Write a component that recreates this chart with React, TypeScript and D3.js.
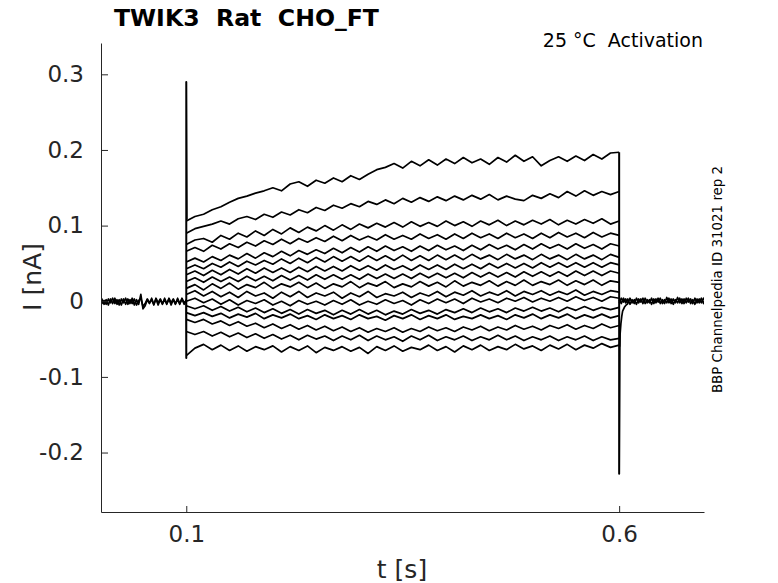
import React, { useEffect, useRef } from "react";
import * as d3 from "d3";

// axis ticks
const yTicks = [-0.2, -0.1, 0, 0.1, 0.2, 0.3];
const xTicks = [0.1, 0.6];

// holding current before the step (0 .. 0.1 s), nA — two overlapping sweeps
const basePre = [-0.001, 0.003, -0.004, 0.002, -0.005, 0.003, -0.003, 0.004, -0.004, 0.002, -0.005, 0.003, -0.004, 0.003, -0.003, 0.004, -0.005, 0.002, -0.004, 0.009, -0.010, -0.006, 0.002, -0.003, 0.004, -0.004, 0.003, -0.005, 0.002, -0.004, 0.004, -0.003, 0.003, -0.005, 0.002, -0.004, 0.004, -0.003, 0.003, -0.004, 0.002];
const basePre2 = [0.002, -0.003, 0.001, -0.004, 0.003, -0.002, 0.004, -0.003, 0.002, -0.005, 0.003, -0.002, 0.004, -0.004, 0.002, -0.003, 0.003, -0.005, 0.001, 0.004, -0.007, -0.003, 0.003, -0.002, 0.002, -0.005, 0.004, -0.002, 0.003, -0.003, 0.002, -0.004, 0.004, -0.002, 0.003, -0.003, 0.002, -0.004, 0.004, -0.002, 0.001];
// holding current after the step (0.6 .. 0.7 s), nA
const basePost = [0.002, -0.003, 0.004, -0.002, 0.003, -0.004, 0.002, -0.003, 0.004, -0.002, 0.003, -0.003, 0.004, -0.002, 0.002, -0.004, 0.003, -0.002, 0.004, -0.003, 0.002, -0.003, 0.005, -0.002, 0.003, -0.004, 0.002, -0.002, 0.004, -0.003, 0.003, -0.002, 0.004, -0.003, 0.002, -0.004, 0.003, -0.002, 0.004, -0.003, 0.002];
const basePost2 = [-0.002, 0.004, -0.001, 0.003, -0.003, 0.004, -0.002, 0.002, -0.004, 0.003, -0.001, 0.004, -0.003, 0.002, -0.002, 0.004, -0.003, 0.003, -0.001, 0.004, -0.003, 0.002, -0.002, 0.004, -0.003, 0.003, -0.002, 0.005, -0.002, 0.003, -0.003, 0.004, -0.001, 0.003, -0.003, 0.004, -0.002, 0.003, -0.002, 0.004, -0.001];
const tailTimes = [0.6005, 0.601, 0.602, 0.603, 0.604, 0.606, 0.608, 0.61];
const tailPost = [-0.06, -0.045, -0.03, -0.02, -0.013, -0.008, -0.005, -0.003];

// capacitive transients
const onsetTimes = [0.0998, 0.1, 0.1, 0.1006];
const onsetValues = [0, -0.075, 0.29, 0.108];
const offsetTimes = [0.6, 0.6, 0.6008];
const offsetValues = [0.197, -0.228, -0.03];

// currents during the step (0.1 .. 0.6 s), nA
const trace01 = [0.106, 0.112, 0.115, 0.121, 0.125, 0.131, 0.136, 0.139, 0.143, 0.146, 0.150, 0.146, 0.155, 0.158, 0.152, 0.160, 0.156, 0.163, 0.158, 0.166, 0.161, 0.168, 0.174, 0.177, 0.182, 0.176, 0.185, 0.179, 0.187, 0.180, 0.188, 0.182, 0.190, 0.183, 0.188, 0.181, 0.190, 0.184, 0.193, 0.185, 0.191, 0.179, 0.186, 0.191, 0.185, 0.192, 0.186, 0.194, 0.188, 0.196, 0.197];
const trace02 = [0.090, 0.096, 0.099, 0.102, 0.106, 0.102, 0.109, 0.112, 0.108, 0.115, 0.111, 0.118, 0.114, 0.121, 0.117, 0.124, 0.120, 0.127, 0.123, 0.129, 0.125, 0.132, 0.128, 0.134, 0.129, 0.136, 0.131, 0.137, 0.132, 0.138, 0.133, 0.139, 0.134, 0.140, 0.135, 0.141, 0.134, 0.139, 0.135, 0.133, 0.140, 0.136, 0.142, 0.137, 0.145, 0.139, 0.146, 0.140, 0.145, 0.141, 0.145];
const trace03 = [0.075, 0.081, 0.083, 0.078, 0.087, 0.082, 0.090, 0.085, 0.093, 0.087, 0.095, 0.089, 0.097, 0.091, 0.098, 0.093, 0.100, 0.094, 0.101, 0.095, 0.102, 0.097, 0.103, 0.098, 0.104, 0.098, 0.105, 0.099, 0.104, 0.099, 0.106, 0.100, 0.105, 0.099, 0.106, 0.101, 0.107, 0.100, 0.106, 0.101, 0.107, 0.102, 0.108, 0.101, 0.107, 0.102, 0.108, 0.103, 0.109, 0.102, 0.106];
const trace04 = [0.066, 0.071, 0.066, 0.074, 0.069, 0.076, 0.071, 0.078, 0.073, 0.080, 0.075, 0.082, 0.076, 0.083, 0.078, 0.084, 0.079, 0.086, 0.080, 0.087, 0.081, 0.086, 0.081, 0.088, 0.082, 0.087, 0.082, 0.089, 0.083, 0.088, 0.082, 0.089, 0.083, 0.090, 0.084, 0.089, 0.083, 0.090, 0.084, 0.089, 0.083, 0.090, 0.084, 0.091, 0.085, 0.090, 0.084, 0.091, 0.085, 0.090, 0.087];
const trace05 = [0.052, 0.057, 0.052, 0.059, 0.054, 0.061, 0.056, 0.063, 0.057, 0.064, 0.059, 0.066, 0.060, 0.067, 0.062, 0.068, 0.063, 0.070, 0.064, 0.071, 0.065, 0.072, 0.066, 0.073, 0.067, 0.072, 0.066, 0.073, 0.067, 0.074, 0.068, 0.073, 0.067, 0.074, 0.068, 0.075, 0.069, 0.074, 0.068, 0.075, 0.069, 0.076, 0.070, 0.075, 0.069, 0.076, 0.070, 0.075, 0.069, 0.076, 0.073];
const trace06 = [0.043, 0.048, 0.043, 0.050, 0.045, 0.052, 0.046, 0.053, 0.048, 0.054, 0.049, 0.056, 0.050, 0.057, 0.051, 0.058, 0.052, 0.059, 0.053, 0.059, 0.053, 0.060, 0.054, 0.060, 0.054, 0.061, 0.054, 0.060, 0.054, 0.061, 0.055, 0.061, 0.055, 0.062, 0.056, 0.061, 0.055, 0.062, 0.056, 0.061, 0.055, 0.062, 0.056, 0.061, 0.055, 0.062, 0.056, 0.061, 0.055, 0.062, 0.058];
const trace07 = [0.035, 0.040, 0.034, 0.041, 0.035, 0.042, 0.036, 0.043, 0.037, 0.044, 0.038, 0.044, 0.038, 0.045, 0.039, 0.046, 0.040, 0.046, 0.040, 0.047, 0.041, 0.047, 0.041, 0.048, 0.042, 0.047, 0.041, 0.048, 0.042, 0.048, 0.042, 0.049, 0.043, 0.049, 0.043, 0.050, 0.044, 0.050, 0.044, 0.050, 0.044, 0.051, 0.045, 0.051, 0.045, 0.051, 0.045, 0.051, 0.045, 0.051, 0.048];
const trace08 = [0.026, 0.031, 0.025, 0.032, 0.026, 0.032, 0.026, 0.033, 0.027, 0.033, 0.027, 0.034, 0.028, 0.034, 0.028, 0.035, 0.029, 0.035, 0.029, 0.035, 0.029, 0.036, 0.030, 0.036, 0.030, 0.036, 0.030, 0.037, 0.031, 0.037, 0.031, 0.037, 0.031, 0.038, 0.032, 0.038, 0.032, 0.038, 0.032, 0.039, 0.033, 0.039, 0.033, 0.039, 0.033, 0.040, 0.034, 0.040, 0.034, 0.040, 0.037];
const trace09 = [0.017, 0.022, 0.015, 0.023, 0.017, 0.024, 0.016, 0.022, 0.018, 0.025, 0.017, 0.023, 0.019, 0.025, 0.018, 0.024, 0.017, 0.023, 0.019, 0.026, 0.018, 0.024, 0.020, 0.026, 0.018, 0.023, 0.019, 0.026, 0.020, 0.025, 0.019, 0.027, 0.020, 0.025, 0.021, 0.027, 0.020, 0.026, 0.021, 0.028, 0.021, 0.026, 0.022, 0.028, 0.021, 0.027, 0.022, 0.028, 0.021, 0.027, 0.025];
const trace10 = [0.009, 0.014, 0.007, 0.013, 0.006, 0.012, 0.005, 0.013, 0.007, 0.011, 0.004, 0.012, 0.006, 0.013, 0.005, 0.011, 0.007, 0.012, 0.004, 0.011, 0.006, 0.013, 0.005, 0.010, 0.007, 0.012, 0.005, 0.011, 0.007, 0.013, 0.006, 0.012, 0.008, 0.014, 0.007, 0.012, 0.008, 0.014, 0.007, 0.013, 0.009, 0.014, 0.008, 0.013, 0.009, 0.015, 0.008, 0.013, 0.009, 0.014, 0.012];
const trace11 = [0.000, 0.004, -0.002, 0.003, -0.004, 0.002, -0.005, 0.001, -0.003, 0.002, -0.005, 0.000, -0.006, 0.001, -0.004, 0.000, -0.005, 0.001, -0.004, 0.002, -0.005, 0.000, -0.004, 0.002, -0.003, 0.001, -0.005, 0.002, -0.003, 0.003, -0.002, 0.003, -0.003, 0.004, -0.001, 0.003, -0.002, 0.004, 0.000, 0.005, -0.001, 0.004, 0.000, 0.005, 0.000, 0.006, 0.001, 0.005, 0.000, 0.006, 0.004];
const trace12 = [-0.006, -0.010, -0.006, -0.012, -0.007, -0.013, -0.008, -0.014, -0.009, -0.015, -0.010, -0.016, -0.011, -0.017, -0.011, -0.016, -0.012, -0.018, -0.012, -0.017, -0.011, -0.017, -0.012, -0.018, -0.013, -0.017, -0.011, -0.016, -0.012, -0.017, -0.011, -0.015, -0.010, -0.015, -0.009, -0.014, -0.010, -0.015, -0.009, -0.013, -0.008, -0.013, -0.009, -0.014, -0.008, -0.012, -0.007, -0.012, -0.008, -0.011, -0.008];
const trace13 = [-0.015, -0.019, -0.015, -0.020, -0.016, -0.022, -0.017, -0.021, -0.016, -0.023, -0.018, -0.022, -0.017, -0.023, -0.019, -0.024, -0.018, -0.023, -0.019, -0.024, -0.018, -0.023, -0.020, -0.025, -0.019, -0.023, -0.018, -0.024, -0.019, -0.023, -0.018, -0.024, -0.020, -0.023, -0.018, -0.023, -0.019, -0.024, -0.018, -0.022, -0.017, -0.023, -0.018, -0.022, -0.017, -0.023, -0.018, -0.022, -0.017, -0.022, -0.019];
const trace14 = [-0.024, -0.028, -0.024, -0.030, -0.026, -0.032, -0.027, -0.033, -0.029, -0.035, -0.030, -0.036, -0.031, -0.037, -0.032, -0.038, -0.033, -0.039, -0.034, -0.040, -0.035, -0.041, -0.036, -0.040, -0.035, -0.041, -0.036, -0.040, -0.034, -0.039, -0.035, -0.040, -0.034, -0.038, -0.033, -0.039, -0.034, -0.038, -0.032, -0.037, -0.033, -0.038, -0.032, -0.036, -0.031, -0.037, -0.032, -0.036, -0.030, -0.035, -0.032];
const trace15 = [-0.040, -0.044, -0.040, -0.046, -0.041, -0.047, -0.042, -0.048, -0.043, -0.049, -0.044, -0.050, -0.045, -0.051, -0.045, -0.050, -0.046, -0.052, -0.046, -0.051, -0.045, -0.052, -0.046, -0.051, -0.047, -0.053, -0.046, -0.051, -0.045, -0.052, -0.047, -0.051, -0.046, -0.052, -0.047, -0.051, -0.045, -0.051, -0.046, -0.052, -0.047, -0.051, -0.046, -0.052, -0.047, -0.051, -0.046, -0.052, -0.047, -0.051, -0.049];
const trace16 = [-0.072, -0.062, -0.057, -0.064, -0.058, -0.065, -0.059, -0.066, -0.060, -0.064, -0.059, -0.067, -0.060, -0.065, -0.059, -0.068, -0.061, -0.065, -0.060, -0.066, -0.061, -0.069, -0.060, -0.065, -0.059, -0.066, -0.061, -0.064, -0.058, -0.065, -0.060, -0.067, -0.059, -0.064, -0.058, -0.065, -0.060, -0.064, -0.057, -0.063, -0.059, -0.065, -0.058, -0.063, -0.057, -0.064, -0.058, -0.062, -0.056, -0.061, -0.058];

const traces = [trace01, trace02, trace03, trace04, trace05, trace06, trace07, trace08, trace09, trace10, trace11, trace12, trace13, trace14, trace15, trace16];

const W = 778;
const H = 583;
const FONT = "DejaVu Sans, sans-serif";
const AXIS_COLOR = "#262626";

export default function App() {
  const ref = useRef(null);

  useEffect(() => {
    const svg = d3.select(ref.current);
    svg.selectAll("*").remove();

    const x = d3.scaleLinear([0.0015, 0.698], [101, 704]);
    const y = d3.scaleLinear([-0.2786, 0.3414], [512, 43]);

    const line = d3
      .line()
      .x((d) => x(d[0]))
      .y((d) => y(d[1]));

    // spread samples evenly over [t0, t1]
    const spread = (vals, t0, t1) =>
      vals.map((v, i) => [t0 + (i * (t1 - t0)) / (vals.length - 1), v]);

    svg
      .append("clipPath")
      .attr("id", "plot-clip")
      .append("rect")
      .attr("x", 101)
      .attr("y", 43)
      .attr("width", 603)
      .attr("height", 469);

    const plot = svg
      .append("g")
      .attr("clip-path", "url(#plot-clip)")
      .attr("fill", "none")
      .attr("stroke", "#000")
      .attr("stroke-width", 1.7)
      .attr("stroke-linejoin", "round");

    [basePre, basePre2].forEach((b) => plot.append("path").attr("d", line(spread(b, 0, 0.1))));
    [basePost, basePost2].forEach((b) => plot.append("path").attr("d", line(spread(b, 0.6, 0.7))));
    plot.append("path").attr("d", line(tailTimes.map((t, i) => [t, tailPost[i]])));

    traces.forEach((tr) => {
      plot.append("path").attr("d", line(spread(tr, 0.1, 0.6)));
    });

    plot
      .append("path")
      .attr("stroke-width", 2)
      .attr("d", line(onsetTimes.map((t, i) => [t, onsetValues[i]])));
    plot
      .append("path")
      .attr("stroke-width", 2)
      .attr("d", line(offsetTimes.map((t, i) => [t, offsetValues[i]])));

    // MATLAB-like inward ticks
    const fmt = (d) => `${+d.toFixed(1)}`;

    const gy = svg
      .append("g")
      .attr("transform", "translate(101,0)")
      .call(d3.axisLeft(y).tickValues(yTicks).tickFormat(fmt).tickSizeInner(-7).tickSizeOuter(0).tickPadding(17));

    const gx = svg
      .append("g")
      .attr("transform", "translate(0,512)")
      .call(d3.axisBottom(x).tickValues(xTicks).tickFormat(fmt).tickSizeInner(-6).tickSizeOuter(0).tickPadding(13.5));

    [gy, gx].forEach((g) => {
      g.attr("font-family", FONT).attr("font-size", 23);
      g.select(".domain").attr("stroke", AXIS_COLOR).attr("stroke-width", 1);
      g.selectAll(".tick line").attr("stroke", AXIS_COLOR);
      g.selectAll(".tick text").attr("fill", AXIS_COLOR);
    });
  }, []);

  return (
    <svg
      width={W}
      height={H}
      style={{ position: "absolute", left: 0, top: 0, background: "#fff" }}
      fontFamily={FONT}
    >
      <g ref={ref} />
      <text x={114} y={26} fontSize={23.6} fontWeight="bold" fill="#000" style={{ whiteSpace: "pre" }}>
        {"TWIK3  Rat  CHO_FT"}
      </text>
      <text x={703} y={47} fontSize={19} textAnchor="end" fill="#000" style={{ whiteSpace: "pre" }}>
        {"25 °C  Activation"}
      </text>
      <text
        transform="translate(722,279.5) rotate(-90)"
        fontSize={13.4}
        textAnchor="middle"
        fill="#000"
      >
        BBP Channelpedia ID 31021 rep 2
      </text>
      <text
        transform="translate(41,277) rotate(-90)"
        fontSize={25}
        textAnchor="middle"
        fill={AXIS_COLOR}
      >
        I [nA]
      </text>
      <text x={402} y={578} fontSize={25} textAnchor="middle" fill={AXIS_COLOR}>
        t [s]
      </text>
    </svg>
  );
}
